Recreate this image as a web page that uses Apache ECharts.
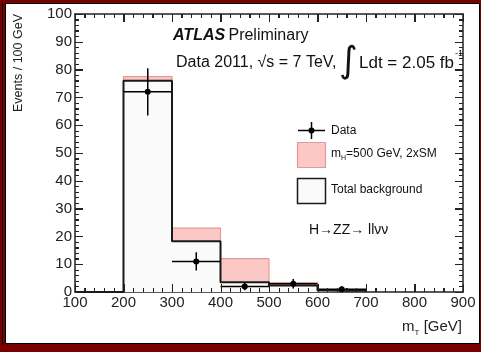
<!DOCTYPE html>
<html>
<head>
<meta charset="utf-8">
<script src="https://cdn.jsdelivr.net/npm/echarts@6/dist/echarts.min.js"></script>
<style>
html,body{margin:0;padding:0;background:#780000}
#frame{position:absolute;left:0;top:0;width:481px;height:352px;background:#780000}
#line1{position:absolute;left:2px;top:2px;width:1px;height:343px;background:#000}
#inner{position:absolute;left:5px;top:3px;width:473px;height:339px;background:#fff;border:1px solid #000}
#c{position:absolute;left:0;top:0;width:481px;height:352px}
</style>
</head>
<body>
<div id="frame"><div id="line1"></div><div id="inner"></div></div>
<div id="c"></div>
<script>
// ---- data ----
const binEdges = [100, 200, 300, 400, 500, 600, 700];
const backgroundValues = [0, 76, 18.3, 3.5, 2.3, 0.5];
const signalValues = [0, 1.5, 4.7, 8.5, 1.1, 0.2];
const dataCenters = [250, 350, 450, 550, 650];
const dataValues = [72, 11, 2, 3, 1];
const dataErrors = [8.5, 3.3, 1.4, 1.7, 1.0];
const binHalfWidth = 50;
const xTicks = [100, 200, 300, 400, 500, 600, 700, 800, 900];
const yTicks = [0, 10, 20, 30, 40, 50, 60, 70, 80, 90, 100];

const FONT = 'Liberation Sans, Arial, Helvetica, sans-serif';
const X_MIN = xTicks[0], X_MAX = xTicks[xTicks.length - 1];
const Y_MIN = yTicks[0], Y_MAX = yTicks[yTicks.length - 1];
const MINOR_DIV = 5;

function stepPoints(vals) {
  const pts = [];
  for (let i = 0; i < vals.length; i++) pts.push([binEdges[i], vals[i]]);
  pts.push([binEdges[binEdges.length - 1], 0]);
  return pts;
}
const totalValues = backgroundValues.map((v, i) => v + signalValues[i]);

function tickList(ticks) {
  const out = [];
  for (let i = 0; i < ticks.length; i++) {
    out.push([ticks[i], 8]);
    if (i < ticks.length - 1) {
      const step = (ticks[i + 1] - ticks[i]) / MINOR_DIV;
      for (let k = 1; k < MINOR_DIV; k++) out.push([ticks[i] + k * step, 4]);
    }
  }
  return out;
}
const xTickMarks = tickList(xTicks);
const yTickMarks = tickList(yTicks);

const chart = echarts.init(document.getElementById('c'), null, {renderer: 'canvas'});

function axisBase() {
  return {
    type: 'value',
    axisLine: {show: true, onZero: false, lineStyle: {color: '#222', width: 1.5}},
    axisTick: {show: true, inside: true, length: 8, lineStyle: {color: '#222', width: 1}},
    minorTick: {show: true, splitNumber: 5, length: 4, lineStyle: {color: '#222', width: 1}},
    splitLine: {show: false}
  };
}

const graphicEls = [
  {type: 'text', z: 20, x: 19, y: 14, rotation: Math.PI / 2,
    style: {text: 'Events / 100 GeV', fontSize: 12.5, fontFamily: FONT, fill: '#222', align: 'right', verticalAlign: 'middle'}},
  {type: 'text', z: 20, x: 462, y: 327,
    style: {text: '{a|m}{b|T}{a| [GeV]}', fontFamily: FONT, align: 'right', verticalAlign: 'middle',
      rich: {a: {fontSize: 15, fontFamily: FONT, fill: '#222'}, b: {fontSize: 8, fontFamily: FONT, fill: '#222', verticalAlign: 'bottom', padding: [0, 0, -2, 0]}}}},
  {type: 'text', z: 20, x: 173, y: 36,
    style: {text: '{b|ATLAS} {n|Preliminary}', verticalAlign: 'middle', align: 'left',
      rich: {b: {fontSize: 16, fontWeight: 'bold', fontStyle: 'italic', fontFamily: FONT, fill: '#111'},
             n: {fontSize: 16, fontFamily: FONT, fill: '#111'}}}},
  {type: 'text', z: 20, x: 176, y: 63,
    style: {text: 'Data 2011, \u221As = 7 TeV,', fontSize: 16, fontFamily: FONT, fill: '#111', verticalAlign: 'middle'}},
  {type: 'text', z: 20, x: 339, y: 63,
    style: {text: '\u222B', fontSize: 36, fontFamily: 'DejaVu Sans', fill: '#111', verticalAlign: 'middle'}},
  {type: 'text', z: 20, x: 359, y: 63,
    style: {text: 'Ldt = 2.05 fb', fontSize: 17, fontFamily: FONT, fill: '#111', verticalAlign: 'middle'}},
  {type: 'text', z: 20, x: 455, y: 54,
    style: {text: '-1', fontSize: 9, fontFamily: FONT, fill: '#111', verticalAlign: 'middle'}},
  {type: 'line', z: 20, shape: {x1: 298, y1: 130.5, x2: 325, y2: 130.5}, style: {stroke: '#000', lineWidth: 1.5}},
  {type: 'line', z: 20, shape: {x1: 311.5, y1: 122, x2: 311.5, y2: 139}, style: {stroke: '#000', lineWidth: 1.5}},
  {type: 'circle', z: 20, shape: {cx: 311.5, cy: 130.5, r: 3}, style: {fill: '#000'}},
  {type: 'text', z: 20, x: 331, y: 131, style: {text: 'Data', fontSize: 12, fontFamily: FONT, fill: '#111', verticalAlign: 'middle'}},
  {type: 'rect', z: 20, shape: {x: 297.5, y: 142.5, width: 28, height: 25}, style: {fill: '#fcc8c6', stroke: '#e59a98', lineWidth: 1.2}},
  {type: 'text', z: 20, x: 331, y: 154,
    style: {text: '{a|m}{b|H}{a|=500 GeV, 2xSM}', verticalAlign: 'middle',
      rich: {a: {fontSize: 12, fontFamily: FONT, fill: '#111'}, b: {fontSize: 7, fontFamily: FONT, fill: '#111', verticalAlign: 'bottom', padding: [0, 0, -2, 0]}}}},
  {type: 'rect', z: 20, shape: {x: 297.5, y: 178.5, width: 28, height: 25}, style: {fill: '#fafafa', stroke: '#1a1a1a', lineWidth: 1.5}},
  {type: 'text', z: 20, x: 331, y: 190, style: {text: 'Total background', fontSize: 12, fontFamily: FONT, fill: '#111', verticalAlign: 'middle'}},
  {type: 'text', z: 20, x: 309, y: 230, style: {text: 'H\u2192ZZ\u2192 ll\u03BD\u03BD', fontSize: 14, fontFamily: FONT, fill: '#111', verticalAlign: 'middle'}}
];

const option = {
  animation: false,
  backgroundColor: 'transparent',
  grid: {left: 75, right: 18, top: 14, bottom: 60},
  xAxis: [
    Object.assign(axisBase(), {
      position: 'bottom', min: X_MIN, max: X_MAX, interval: 100,
      axisLabel: {show: true, fontSize: 15, color: '#222', fontFamily: FONT, margin: 3,
        showMinLabel: true, showMaxLabel: true}
    }),
    Object.assign(axisBase(), {
      position: 'top', min: X_MIN, max: X_MAX, interval: 100,
      axisLabel: {show: false}
    })
  ],
  yAxis: [
    Object.assign(axisBase(), {
      position: 'left', min: Y_MIN, max: Y_MAX, interval: 10,
      axisLabel: {show: true, fontSize: 15, color: '#222', fontFamily: FONT, margin: 3}
    }),
    Object.assign(axisBase(), {
      position: 'right', min: Y_MIN, max: Y_MAX, interval: 10,
      axisLabel: {show: false}
    })
  ],
  series: [
    {
      name: 'mH=500 GeV, 2xSM', type: 'line', step: 'end', symbol: 'none', z: 2,
      data: stepPoints(totalValues),
      lineStyle: {color: '#e59a98', width: 1.2},
      areaStyle: {color: '#fcc8c6', opacity: 1}
    },
    {
      name: 'Total background', type: 'line', step: 'end', symbol: 'none', z: 3,
      data: stepPoints(backgroundValues),
      lineStyle: {color: '#1a1a1a', width: 2},
      areaStyle: {color: '#fafafa', opacity: 1}
    },
    {
      name: 'Data', type: 'custom', z: 5,
      data: dataCenters.map((c, i) => [c, dataValues[i], dataErrors[i]]),
      renderItem: function (params, api) {
        const x = api.value(0), y = api.value(1), e = api.value(2);
        const pL = api.coord([x - binHalfWidth, y]);
        const pR = api.coord([x + binHalfWidth, y]);
        const pT = api.coord([x, y + e]);
        const pB = api.coord([x, Math.max(0, y - e)]);
        const pC = api.coord([x, y]);
        const st = {stroke: '#000', lineWidth: 1.5};
        return {
          type: 'group',
          children: [
            {type: 'line', shape: {x1: pL[0], y1: pL[1], x2: pR[0], y2: pR[1]}, style: st},
            {type: 'line', shape: {x1: pT[0], y1: pT[1], x2: pB[0], y2: pB[1]}, style: st},
            {type: 'circle', shape: {cx: pC[0], cy: pC[1], r: 3}, style: {fill: '#000'}}
          ]
        };
      }
    },
    {
      name: 'xTickMarks', type: 'custom', z: 6,
      data: xTickMarks.map(p => [p[0], Y_MIN, p[1]]),
      renderItem: function (params, api) {
        const v = api.value(0), len = api.value(2);
        const b = api.coord([v, Y_MIN]);
        const t = api.coord([v, Y_MAX]);
        const x = Math.round(b[0]) + 0.5;
        return {
          type: 'group',
          children: [
            {type: 'line', shape: {x1: x, y1: b[1], x2: x, y2: b[1] - len}, style: {stroke: '#222', lineWidth: 1}},
            {type: 'line', shape: {x1: x, y1: t[1], x2: x, y2: t[1] + len}, style: {stroke: '#222', lineWidth: 1}}
          ]
        };
      }
    },
    {
      name: 'yTickMarks', type: 'custom', z: 6,
      data: yTickMarks.map(p => [X_MIN, p[0], p[1]]),
      renderItem: function (params, api) {
        const v = api.value(1), len = api.value(2);
        const l = api.coord([X_MIN, v]);
        const r = api.coord([X_MAX, v]);
        const y = Math.round(l[1]) + 0.5;
        return {
          type: 'group',
          children: [
            {type: 'line', shape: {x1: l[0], y1: y, x2: l[0] + len, y2: y}, style: {stroke: '#222', lineWidth: 1}},
            {type: 'line', shape: {x1: r[0], y1: y, x2: r[0] - len, y2: y}, style: {stroke: '#222', lineWidth: 1}}
          ]
        };
      }
    }
  ],
  graphic: graphicEls
};
chart.setOption(option);
</script>
</body>
</html>
